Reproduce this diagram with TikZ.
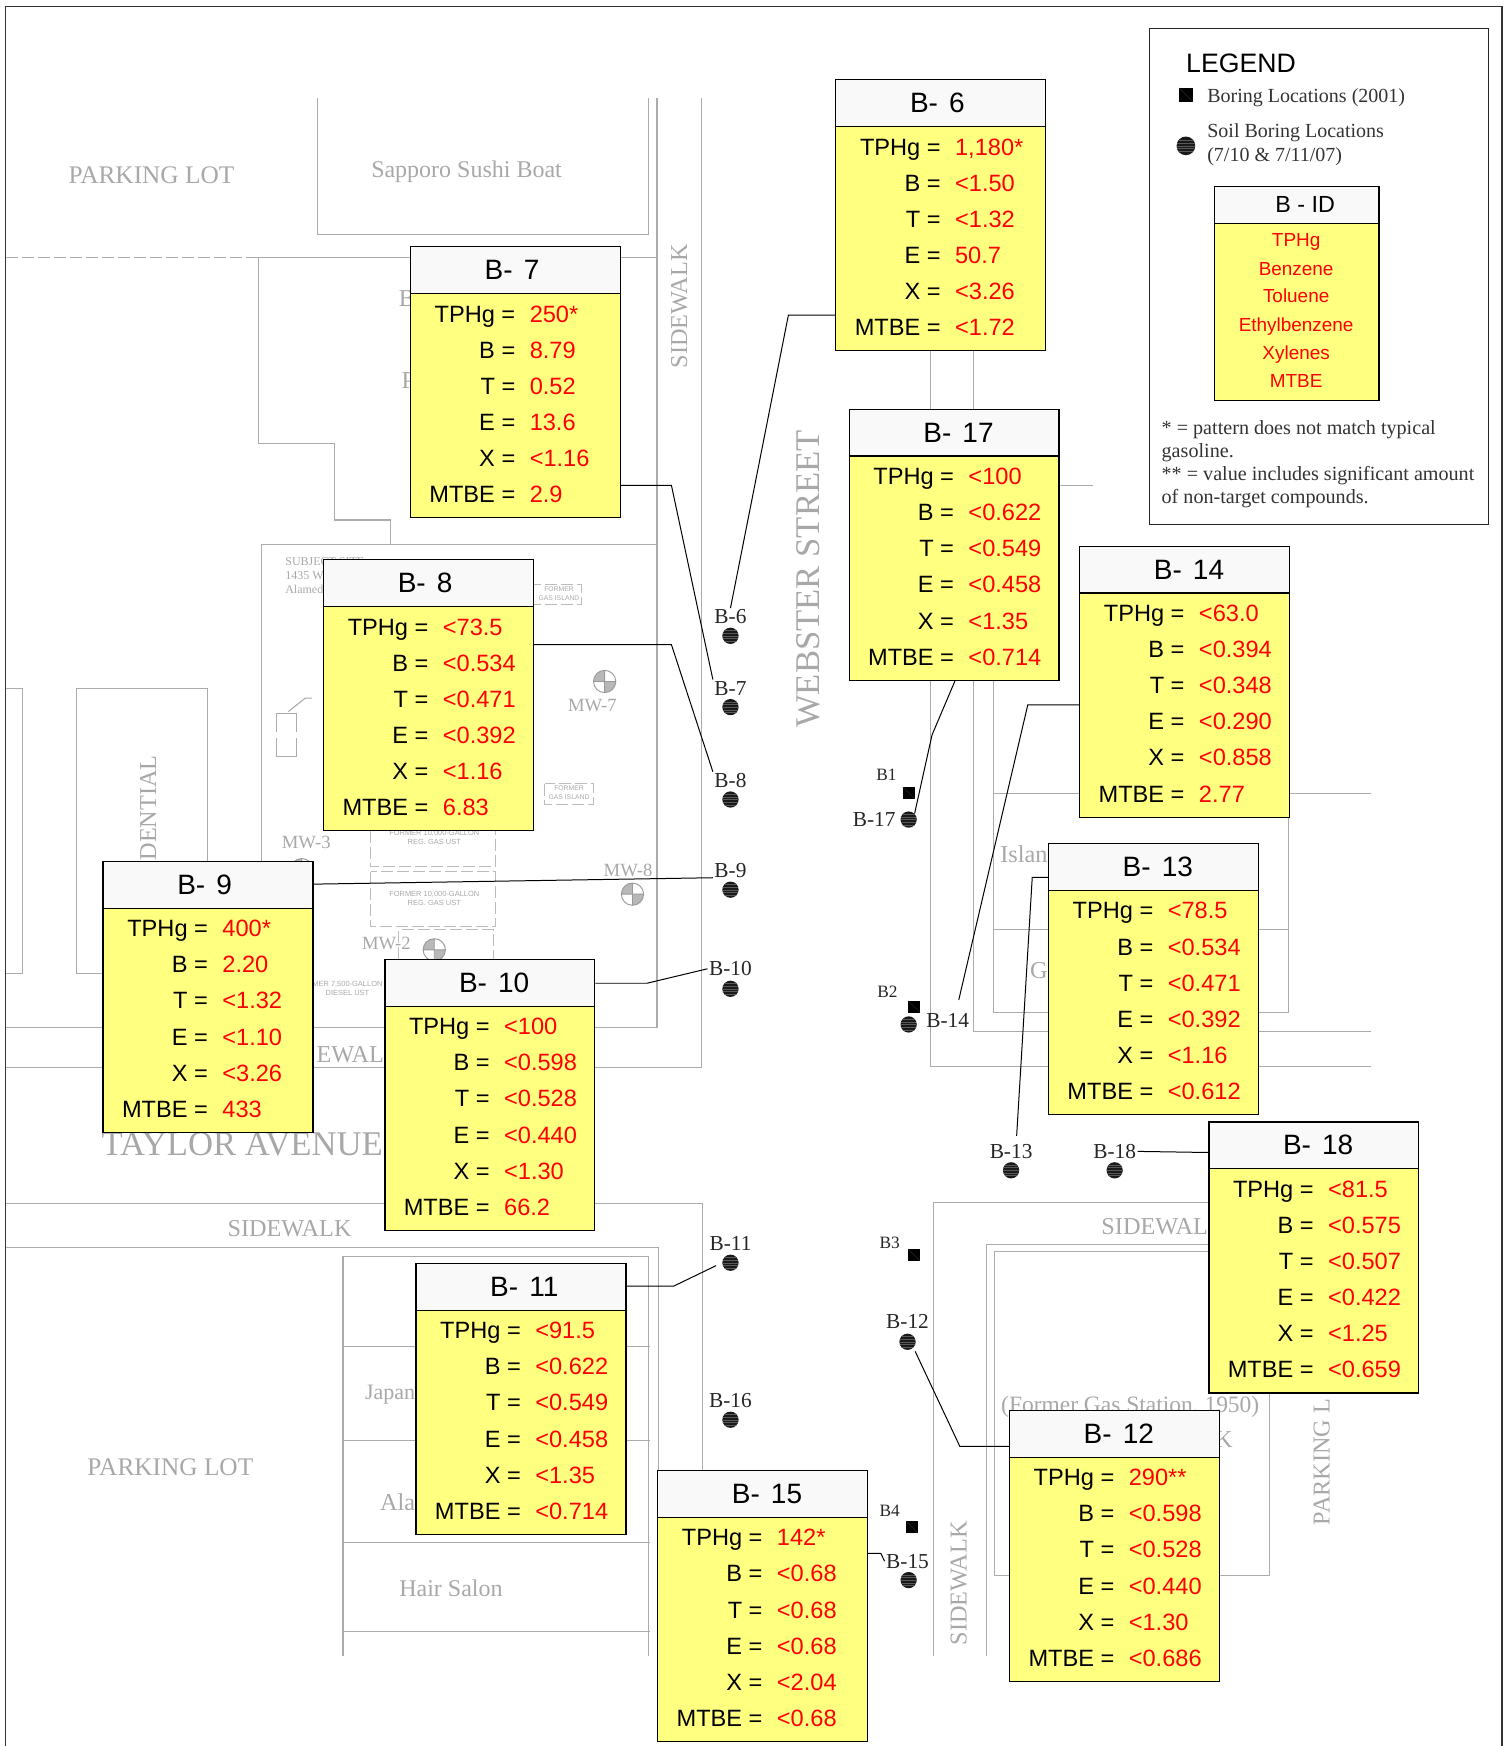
\documentclass[tikz,border=0pt]{standalone}
\usepackage{fontspec}
\setmainfont{Liberation Serif}
\newfontfamily\arialfont{Liberation Sans}
\definecolor{mapgrey}{HTML}{ABABAB}
\definecolor{mapink}{HTML}{A8A8A8}
\definecolor{headfill}{HTML}{F9F9F9}
\definecolor{bodyfill}{HTML}{FFFF80}
\tikzset{
  mapline/.style={draw=mapgrey,line width=0.8pt},
  tankline/.style={draw=mapgrey!80,line width=0.7pt,dash pattern=on 9pt off 3pt},
  maptext/.style={text=mapink,inner sep=0pt,font=\fontsize{18.2}{20}\selectfont},
  smalltext/.style={text=mapink,inner sep=0pt,align=center,font=\arialfont\fontsize{5.6}{6.6}\selectfont},
  bodybox/.style={draw=black,line width=1pt,fill=bodyfill,inner sep=0pt,minimum width=157.4pt,minimum height=203.3pt,anchor=north west},
  headbox/.style={draw=black,line width=1pt,fill=headfill,inner sep=0pt,minimum width=157.4pt,minimum height=35.1pt,anchor=north west},
  rowlabel/.style={inner sep=0pt,anchor=base east,font=\arialfont\fontsize{17.7}{20}\selectfont},
  rowvalue/.style={inner sep=0pt,anchor=base west,text=red,font=\arialfont\fontsize{17.7}{20}\selectfont},
  headtext/.style={inner sep=0pt,anchor=base west,font=\arialfont\fontsize{21}{24}\selectfont},
  boring/.style={circle,fill=black!90,inner sep=0pt,minimum size=12.2pt,path picture={
    \foreach \sy in {-4,-2,...,4}{
      \draw[black!65,line width=0.3pt] ([yshift=\sy pt]path picture bounding box.west) -- ([yshift=\sy pt]path picture bounding box.east);
    }}},
  oldboring/.style={rectangle,fill=black,inner sep=0pt,minimum size=9pt,path picture={
    \draw[black!70,line width=0.15pt] (path picture bounding box.north west) -- (path picture bounding box.south east);}},
  borelabel/.style={inner sep=1pt,text=black!85,font=\fontsize{16}{18}\selectfont},
  lead/.style={draw=black,line width=0.75pt},
  legendtext/.style={inner sep=0pt,anchor=west,text=black!80,font=\fontsize{15}{18}\selectfont},
  legendred/.style={inner sep=0pt,anchor=base,text=red,font=\arialfont\fontsize{14.2}{16}\selectfont}
}
% number, left, top, then the six results
\newcommand{\resultbox}[9]{%
  \node[bodybox] (b#1) at (#2,#3) {};
  \node[headbox] (h#1) at (b#1.north west) {};
  \begin{scope}[shift={(#2,#3)}]
    \node[headtext] (t#1) at (67,30) {B-\hspace{0.12em} #1};
    \foreach \lab/\val/\ry in {TPHg/{#4}/68.3,B/{#5}/100.7,T/{#6}/133.1,E/{#7}/165.5,X/{#8}/197.9,MTBE/{#9}/230.3}{
      \node[rowlabel] at (95,\ry) {\lab\ =};
      \node[rowvalue] at (107.5,\ry) {\val};
    }
  \end{scope}
}
% monitoring well mark
\newcommand{\wellmark}[2]{%
  \fill[white] (#1,#2) circle (10);
  \fill[mapgrey!85] (#1,#2) -- (#1+10,#2) arc (0:90:10) -- cycle;
  \fill[mapgrey!85] (#1,#2) -- (#1-10,#2) arc (180:270:10) -- cycle;
  \draw[draw=mapgrey!90!black,line width=0.7pt] (#1,#2) circle (10) (#1-10,#2) -- (#1+10,#2) (#1,#2-10) -- (#1,#2+10);
}
\begin{document}
\begin{tikzpicture}[x=0.8353pt,y=-0.8353pt]
  \useasboundingbox (0,0) rectangle (1355,1568);
  % Frame
  \draw[black!80,line width=1pt] (5,1568) -- (5,6) -- (1349,6) -- (1349,1568);

  % Street map
  \draw[mapline] (285,88) -- (285,211) -- (582,211) -- (582,88);
  \draw[mapline] (590,88) -- (590,923) -- (5,923);
  \draw[mapline] (630,88) -- (630,959) -- (5,959);
  \draw[mapline,dashed,dash pattern=on 9pt off 3pt] (5,231) -- (232,231);
  \draw[mapline] (590,231) -- (232,231) -- (232,398) -- (300,398) -- (300,467) -- (351,467) -- (351,489);
  \draw[mapline] (590,489) -- (235,489) -- (235,923);
  \draw[mapline] (5,618) -- (20,618) -- (20,874) -- (5,874);
  \draw[mapline] (69,618) rectangle (186,874);
  \draw[mapline] (5,1081) -- (631,1081) -- (631,1320);
  \draw[mapline] (5,1120) -- (591,1120) -- (591,1320);
  \draw[mapline] (308,1487) -- (308,1128) -- (582,1128) -- (582,1487);
  \foreach \yy in {1209,1294,1385,1465}{
    \draw[mapline] (307,\yy) -- (584,\yy);
  }
  \draw[mapline] (836,315) -- (836,958) -- (1231,958);
  \draw[mapline] (874,315) -- (874,926) -- (1231,926);
  \draw[mapline] (892,611) -- (892,909) -- (1157,909) -- (1157,713);
  \draw[mapline] (892,713) -- (1231,713);
  \draw[mapline] (893,835) -- (1157,835);
  \draw[mapline] (951,436) -- (982,436);
  \draw[mapline] (838,1487) -- (838,1080) -- (1085,1080);
  \draw[mapline] (886,1487) -- (886,1118) -- (1085,1118);
  \draw[mapline] (1085,1124) -- (893,1124) -- (893,1415) -- (1140,1415) -- (1140,1251);

  % Former tanks and islands
  \draw[tankline] (479,525) rectangle (522,543);
  \draw[tankline] (489,704) rectangle (533,722);
  \draw[tankline] (333,746) -- (333,778) -- (445,778) -- (445,746);
  \draw[tankline] (333,783) rectangle (445,832);
  \draw[tankline] (358,861) -- (358,835) -- (443,835) -- (443,861);
  \draw[mapline] (248,657) -- (248,641) -- (266,641) -- (266,657);
  \draw[mapline] (248,663) -- (248,679) -- (266,679) -- (266,663);
  \draw[mapline] (259,639) -- (274,627) -- (280,627);
  \node[smalltext,font=\arialfont\fontsize{5.1}{6.6}\selectfont] (gas1) at (502,533) {FORMER\\GAS ISLAND};
  \node[smalltext,font=\arialfont\fontsize{5.1}{6.6}\selectfont] (gas2) at (511,712) {FORMER\\GAS ISLAND};
  \node[smalltext] (ust1) at (390,752) {FORMER 10,000-GALLON\\REG. GAS UST};
  \node[smalltext] (ust2) at (390,807) {FORMER 10,000-GALLON\\REG. GAS UST};
  \node[smalltext] (ust3) at (312,888) {MER 7,500-GALLON\\DIESEL UST};
  \wellmark{543}{612}
  \wellmark{568}{803}
  \wellmark{390}{853}
  \wellmark{271}{781}

  % Map labels
  \node[maptext,font=\fontsize{19}{20}\selectfont] (lot1) at (136,157) {PARKING LOT};
  \node[maptext,font=\fontsize{19}{20}\selectfont] (lot2) at (153,1318) {PARKING LOT};
  \node[maptext,font=\fontsize{18}{20}\selectfont] (sushi) at (419,154) {Sapporo Sushi Boat};
  \node[maptext,rotate=90] (walk1) at (610,275) {SIDEWALK};
  \node[maptext,rotate=90] (walk2) at (861,1422) {SIDEWALK};
  \node[maptext] (walk3) at (260,1103) {SIDEWALK};
  \node[maptext,anchor=east] (walk4) at (345,947) {EWAL};
  \node[maptext,anchor=east] (walk5) at (1085,1102) {SIDEWAL};
  \node[maptext,rotate=90,anchor=west] (lot3) at (1187,1370) {PARKING L};
  \node[maptext,rotate=90,anchor=east] (resid) at (133,678) {DENTIAL};
  \node[maptext,font=\fontsize{26}{28}\selectfont,rotate=90] (webster) at (726,520) {WEBSTER STREET};
  \node[maptext,font=\fontsize{26}{28}\selectfont,anchor=west] (taylor) at (91,1028) {TAYLOR AVENUE};
  \node[maptext,anchor=east] (frag1) at (373,268) {B};
  \node[maptext,anchor=east] (frag2) at (373,342) {P};
  \node[maptext,anchor=east] (frag3) at (941,767) {Islan};
  \node[maptext,anchor=east] (frag4) at (941,872) {G};
  \node[maptext,anchor=east,font=\fontsize{16.5}{20}\selectfont] (frag5) at (373,1252) {Japan};
  \node[maptext,anchor=east] (frag6) at (373,1349) {Ala};
  \node[maptext,font=\fontsize{18}{20}\selectfont] (hair) at (405,1426) {Hair Salon};
  \node[maptext,font=\fontsize{17.6}{20}\selectfont] (former) at (1015,1263) {(Former Gas Station, 1950)};
  \node[maptext,anchor=west] (frag7) at (1091,1293) {K};
  \node[maptext,font=\fontsize{14}{15}\selectfont] (mw7) at (532,634) {MW-7};
  \node[maptext,font=\fontsize{14}{15}\selectfont] (mw8) at (564,782) {MW-8};
  \node[maptext,font=\fontsize{14}{15}\selectfont] (mw2) at (347,847) {MW-2};
  \node[maptext,font=\fontsize{14}{15}\selectfont] (mw3) at (275,757) {MW-3};
  \node[maptext,anchor=west,font=\fontsize{9}{10.5}\selectfont,align=left] (site) at (256,517) {SUBJECT SITE\\1435 W\\Alamed};

  % Boring marks
  \foreach \id/\xx/\yy in {6/656/571,7/656/635,8/656/718,9/656/799,10/656/888,11/656/1134,16/656/1275,17/816/736,14/816/920,13/908/1051,18/1001/1051,12/815/1205,15/816/1419}{
    \node[boring] (d\id) at (\xx,\yy) {};
  }
  \foreach \id/\xx/\yy in {1/816/712,2/821/904,3/821/1127,4/819/1371}{
    \node[oldboring] (s\id) at (\xx,\yy) {};
  }
  \foreach \id/\xx/\yy in {6/656/554,7/656/618,8/656/701,9/656/782,10/656/870,11/656/1117,16/656/1258,17/785/736,14/851/916,13/908/1034,18/1001/1034,12/815/1187,15/815/1402}{
    \node[borelabel] (l\id) at (\xx,\yy) {B-\id};
  }
  \foreach \id/\xx/\yy in {1/796/696,2/797/891,3/799/1116,4/799/1357}{
    \node[borelabel,font=\fontsize{13}{15}\selectfont] (o\id) at (\xx,\yy) {B\id};
  }

  % Result boxes
  \resultbox{6}{750}{71}{1,180*}{<1.50}{<1.32}{50.7}{<3.26}{<1.72}
  \resultbox{7}{368}{221}{250*}{8.79}{0.52}{13.6}{<1.16}{2.9}
  \resultbox{17}{762}{367}{<100}{<0.622}{<0.549}{<0.458}{<1.35}{<0.714}
  \resultbox{8}{290}{502}{<73.5}{<0.534}{<0.471}{<0.392}{<1.16}{6.83}
  \resultbox{14}{969}{490}{<63.0}{<0.394}{<0.348}{<0.290}{<0.858}{2.77}
  \resultbox{9}{92}{773}{400*}{2.20}{<1.32}{<1.10}{<3.26}{433}
  \resultbox{13}{941}{757}{<78.5}{<0.534}{<0.471}{<0.392}{<1.16}{<0.612}
  \resultbox{10}{345}{861}{<100}{<0.598}{<0.528}{<0.440}{<1.30}{66.2}
  \resultbox{18}{1085}{1007}{<81.5}{<0.575}{<0.507}{<0.422}{<1.25}{<0.659}
  \resultbox{11}{373}{1134}{<91.5}{<0.622}{<0.549}{<0.458}{<1.35}{<0.714}
  \resultbox{15}{590}{1320}{142*}{<0.68}{<0.68}{<0.68}{<2.04}{<0.68}
  \resultbox{12}{906}{1266}{290**}{<0.598}{<0.528}{<0.440}{<1.30}{<0.686}

  % Leaders
  \coordinate (e13) at (913,1020);
  \coordinate (e14) at (861,898);
  \draw[lead] (b6.west |- 0,283) -- (708,283) -- (l6.north);
  \draw[lead] (b7.east |- 0,436) -- (603,436) -- (l7.north west);
  \draw[lead] (b8.east |- 0,579) -- (603,579) -- (l8.north west);
  \draw[lead] (b9.east |- 0,794) -- (l9.base west);
  \draw[lead] (b10.east |- 0,883) -- (581,883) -- (l10.west);
  \draw[lead,shorten >=5pt] (b11.east |- 0,1155) -- (605,1155) -- (d11.west);
  \draw[lead,shorten >=3pt] (b12.west |- 0,1299) -- (862,1299) -- (d12.south east);
  \draw[lead] (b13.west |- 0,788) -- (927,788) -- (e13);
  \draw[lead] (b14.west |- 0,633) -- (923,633) -- (e14);
  \draw[lead] (b15.east |- 0,1395) -- (791,1395) -- (l15.west);
  \draw[lead] (b17.south |- 0,611) ++(1,0) -- (837,660) -- (d17.north east);
  \draw[lead] (b18.west |- 0,1035) -- (l18.east);

  % Legend
  \node[draw=black!85,fill=white,line width=0.8pt,inner sep=0pt,minimum width=254.3pt,minimum height=372.5pt,anchor=north west] (legend) at (1032,25) {};
  \node[inner sep=0pt,anchor=west,font=\arialfont\fontsize{20}{22}\selectfont] (legtitle) at (1065,57) {LEGEND};
  \node[oldboring,minimum size=10.5pt] (legsquare) at (1065,85) {};
  \node[boring,minimum size=14pt] (legdot) at (1065,131) {};
  \node[legendtext] (legold) at (1084,88) {Boring Locations (2001)};
  \node[legendtext,align=left] (legsoil) at (1084,130) {Soil Boring Locations\\(7/10 \& 7/11/07)};
  \node[draw=black,line width=0.9pt,fill=bodyfill,inner sep=0pt,minimum width=123.5pt,minimum height=160.4pt,anchor=north west] (legbody) at (1090,167) {};
  \node[draw=black,line width=0.9pt,fill=headfill,inner sep=0pt,minimum width=123.5pt,minimum height=27.6pt,anchor=north west] (leghead) at (1090,167) {};
  \node[inner sep=0pt,font=\arialfont\fontsize{17.5}{19}\selectfont] (legid) at (1172,184) {B - ID};
  \foreach \lab/\yy in {TPHg/221,Benzene/247,Toluene/272,Ethylbenzene/298,Xylenes/323,MTBE/348}{
    \node[legendred] at (1164,\yy) {\lab};
  }
  \node[legendtext,align=left,font=\fontsize{15.1}{17.3}\selectfont] (legnote) at (1043,417) {* = pattern does not match typical\\gasoline.\\** = value includes significant amount\\of non-target compounds.};
\end{tikzpicture}
\end{document}
